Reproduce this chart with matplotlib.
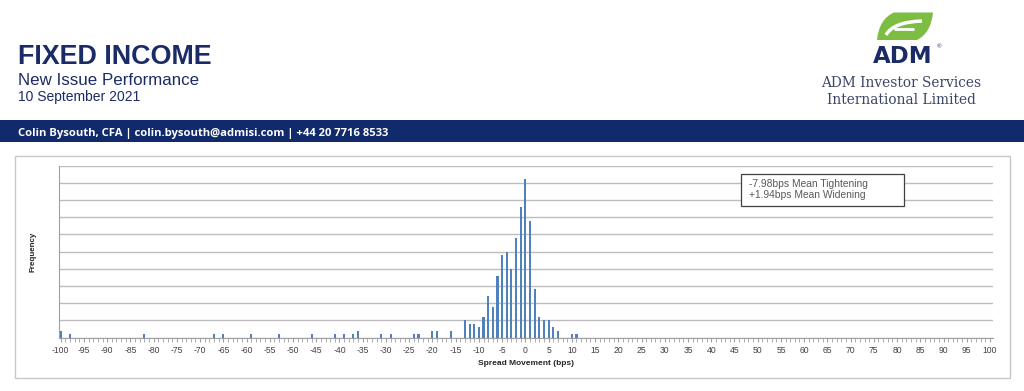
import numpy as np
import matplotlib
matplotlib.use('Agg')
import matplotlib.pyplot as plt
from matplotlib.patches import Rectangle, PathPatch
from matplotlib.path import Path

# spread movement (bps) and number of new issues in each 1bp bucket
spread_bps = [-100, -98, -82, -67, -65, -59, -53, -46, -41, -39, -37, -36,
              -31, -29, -24, -23, -20, -19, -16, -13, -12, -11, -10, -9,
              -8, -7, -6, -5, -4, -3, -2, -1, 0, 1, 2, 3, 4, 5, 6, 7, 10, 11]
frequency = [2, 1, 1, 1, 1, 1, 1, 1, 1, 1, 1, 2,
             1, 1, 1, 1, 2, 2, 2, 5, 4, 4, 3, 6,
             12, 9, 18, 24, 25, 20, 29, 38, 46, 34, 14, 6, 5, 5, 3, 2, 1, 1]
xtick_vals = list(range(-100, 101, 5))
notes = ['-7.98bps Mean Tightening', '+1.94bps Mean Widening']

W, H = 1024, 391
navy = '#1b2b66'
bar_col = '#4f81bd'
grid_col = '#bdbdbd'

plt.rcParams['font.family'] = ['Liberation Sans', 'DejaVu Sans']

fig = plt.figure(figsize=(W / 100, H / 100), dpi=100)

def px(x, y):
  # pixel position (from top-left) -> figure fraction
  return x / W, 1 - y / H

## header text
fig.text(*px(18, 64.3), 'FIXED INCOME', fontsize=19.4, fontweight='bold', color=navy, va='baseline')
fig.text(*px(18, 85), 'New Issue Performance', fontsize=12.2, color=navy, va='baseline')
fig.text(*px(18, 101), '10 September 2021', fontsize=10, color=navy, va='baseline')

## contact banner
fig.patches.append(Rectangle(px(0, 141.7), 1, 21.7 / H, transform=fig.transFigure,
                             facecolor='#102a6b', edgecolor='none'))
fig.text(*px(18, 136), 'Colin Bysouth, CFA | colin.bysouth@admisi.com | +44 20 7716 8533',
         fontsize=8.1, fontweight='bold', color='white', va='baseline', family=['Open Sans', 'DejaVu Sans'])

## logo: leaf + ADM + company name
leaf = Path([px(877, 40), px(879, 19), px(894, 12.5), px(933, 12.5),
             px(931, 33), px(917, 40), px(877, 40), px(877, 40)],
            [Path.MOVETO, Path.CURVE3, Path.CURVE3, Path.LINETO,
             Path.CURVE3, Path.CURVE3, Path.LINETO, Path.CLOSEPOLY])
fig.patches.append(PathPatch(leaf, transform=fig.transFigure, facecolor='#7cbd42', edgecolor='none'))
swoosh = Path([px(886, 35), px(893, 22), px(922, 21)], [Path.MOVETO, Path.CURVE3, Path.CURVE3])
fig.patches.append(PathPatch(swoosh, transform=fig.transFigure, facecolor='none', edgecolor='white', lw=2.5))
bar_w = Path([px(894, 28.5), px(914, 28.5)], [Path.MOVETO, Path.LINETO])
fig.patches.append(PathPatch(bar_w, transform=fig.transFigure, facecolor='none', edgecolor='white', lw=2))
fig.text(*px(903, 63.3), 'ADM', fontsize=16.5, fontweight='heavy', color=navy, ha='center', va='baseline',
         family=['DejaVu Sans'])
fig.text(*px(939, 47), '®', fontsize=4.5, color=navy, ha='center', va='center')
fig.text(*px(901.5, 87.3), 'ADM Investor Services', fontsize=9.9, color='#3b4566', ha='center', va='baseline',
         family=['DejaVu Serif'])
fig.text(*px(901.5, 104), 'International Limited', fontsize=9.9, color='#3b4566', ha='center', va='baseline',
         family=['DejaVu Serif'])

## chart frame
fig.patches.append(Rectangle(px(15, 378), 995 / W, 222.5 / H, transform=fig.transFigure,
                             facecolor='none', edgecolor='#c8c8c8', lw=1))

## histogram
ax = fig.add_axes([59.3 / W, 1 - 337.5 / H, (993.3 - 59.3) / W, (337.5 - 165.7) / H])
ax.bar(spread_bps, frequency, width=0.45, color=bar_col, zorder=3)
ax.set_xlim(-100.3, 100.71)
ax.set_ylim(0, 50)
ax.set_yticks(range(0, 51, 5))
ax.yaxis.grid(True, color=grid_col, lw=1)
ax.tick_params(axis='y', length=0, labelleft=False)
ax.set_xticks(xtick_vals)
ax.set_xticklabels([str(v) for v in xtick_vals], fontsize=6.2, color='#404040')
ax.set_xticks(range(-100, 101), minor=True)
ax.tick_params(axis='x', which='both', length=3, color='#a0a0a0', direction='out', pad=3)
for s in ['top', 'right']:
  ax.spines[s].set_visible(False)
ax.spines['left'].set_color('#a0a0a0')
ax.spines['bottom'].set_color('#a0a0a0')
ax.set_axisbelow(True)

fig.text(*px(526.5, 365), 'Spread Movement (bps)', fontsize=6, fontweight='bold', color='#262626',
         ha='center', va='baseline')
fig.text(*px(33, 251.7), 'Frequency', fontsize=5.8, fontweight='bold', color='#262626',
         ha='center', va='center', rotation=90)

## mean annotation box
fig.patches.append(Rectangle(px(741, 205.7), 163 / W, 31.7 / H, transform=fig.transFigure,
                             facecolor='white', edgecolor='#404040', lw=0.9, zorder=5))
fig.text(*px(749.3, 186.7), notes[0], fontsize=7.4, color='#595959', va='baseline', zorder=6)
fig.text(*px(749.3, 198.3), notes[1], fontsize=7.4, color='#595959', va='baseline', zorder=6)

plt.savefig('out.png', dpi=100)
